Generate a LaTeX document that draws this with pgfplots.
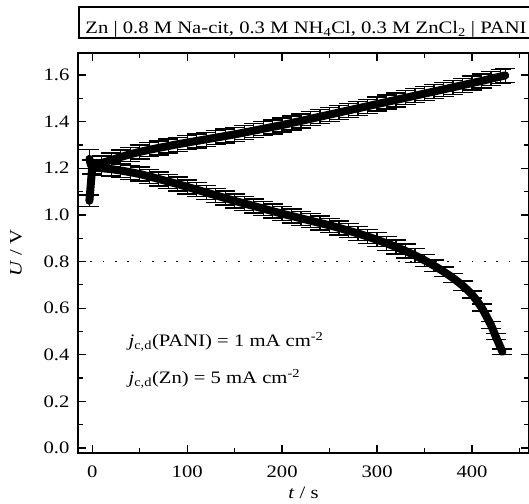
\documentclass[border=0pt]{standalone}
\usepackage{fontspec}
\setmainfont{Liberation Serif}[FakeStretch=1.18]
\usepackage{pgfplots}
\pgfplotsset{compat=1.18}

\newcommand{\fs}{\fontsize{17.5}{21}\selectfont}

% t / s, U / V, error
\pgfplotstableread{
t U e
-3 1.06 0.025
0 1.205 0.03
10 1.222 0.03
20 1.235 0.03
30 1.248 0.03
40 1.260 0.03
50 1.270 0.03
60 1.279 0.03
70 1.287 0.03
80 1.295 0.03
90 1.303 0.03
100 1.310 0.03
110 1.317 0.03
120 1.324 0.03
130 1.331 0.03
140 1.338 0.03
150 1.345 0.03
160 1.353 0.03
170 1.361 0.03
180 1.369 0.03
190 1.377 0.03
200 1.385 0.03
210 1.394 0.03
220 1.403 0.03
230 1.412 0.03
240 1.421 0.03
250 1.430 0.03
260 1.439 0.03
270 1.448 0.03
280 1.457 0.03
290 1.466 0.03
300 1.475 0.03
310 1.484 0.03
320 1.493 0.03
330 1.502 0.03
340 1.511 0.03
350 1.520 0.03
360 1.529 0.03
370 1.538 0.03
380 1.547 0.03
390 1.556 0.03
400 1.565 0.03
410 1.574 0.03
420 1.584 0.03
430 1.593 0.03
435 1.598 0.03
}\charge

\pgfplotstableread{
t U e
-3 1.240 0.04
0 1.205 0.03
10 1.200 0.03
20 1.196 0.03
30 1.190 0.03
40 1.183 0.03
50 1.175 0.03
60 1.165 0.03
70 1.154 0.03
80 1.143 0.03
90 1.132 0.03
100 1.120 0.03
110 1.108 0.03
120 1.096 0.03
130 1.084 0.03
140 1.072 0.03
150 1.060 0.03
160 1.049 0.03
170 1.038 0.03
180 1.027 0.03
190 1.016 0.03
200 1.005 0.03
210 0.995 0.03
220 0.985 0.03
230 0.975 0.03
240 0.965 0.03
250 0.955 0.03
260 0.944 0.03
270 0.932 0.03
280 0.920 0.03
290 0.907 0.03
300 0.893 0.03
310 0.878 0.03
320 0.862 0.03
330 0.845 0.03
340 0.826 0.03
350 0.805 0.025
360 0.782 0.025
370 0.757 0.02
380 0.729 0.02
390 0.697 0.02
400 0.658 0.015
410 0.603 0.015
420 0.527 0.015
425 0.478 0.012
432 0.413 0.012
}\discharge

\begin{document}
\begin{tikzpicture}
\begin{axis}[
    at={(0,0)}, anchor=south west,
    scale only axis,
    width=451pt, height=400pt,
    xmin=-15, xmax=460,
    ymin=-0.021, ymax=1.694,
    xtick={0,100,...,400},
    minor xtick={50,150,...,450},
    ytick={0,0.2,...,1.6},
    minor ytick={0.1,0.3,...,1.7},
    tick align=inside,
    major tick length=8pt,
    minor tick length=5pt,
    every tick/.style={black, line width=1.3pt},
    axis line style={line width=1.6pt},
    /pgf/number format/assume math mode=true,
    tick label style={font=\fs},
    xticklabel style={yshift=-9pt},
    yticklabel style={xshift=-5pt, /pgf/number format/fixed,
        /pgf/number format/fixed zerofill, /pgf/number format/precision=1},
    xlabel={\textit{t} / s},
    ylabel={\textit{U} / V},
    every axis x label/.style={at={(axis description cs:0.5,0)}, yshift=-45pt, anchor=base, font=\fs},
    every axis y label/.style={at={(axis description cs:0,0.5)}, xshift=-62pt, rotate=90, anchor=center, font=\fs},
    clip=false,
]
\addplot[black, line width=1.8pt, dash pattern=on 1.8pt off 10.5pt] coordinates {(-15,0.8) (460,0.8)};

\addplot[black, line width=8pt, line cap=round, line join=round,
    error bars/.cd, y dir=both, y explicit,
    error bar style={line width=1.3pt, line cap=butt},
    error mark options={rotate=90, line width=1.3pt, mark size=10pt}]
    table[x=t, y=U, y error=e] {\charge};

\addplot[black, line width=8pt, line cap=round, line join=round, smooth, tension=0.4,
    error bars/.cd, y dir=both, y explicit,
    error bar style={line width=1.3pt, line cap=butt},
    error mark options={rotate=90, line width=1.3pt, mark size=10pt}]
    table[x=t, y=U, y error=e] {\discharge};

\node[anchor=base west, font=\fs, inner sep=0pt] at (axis cs:38,0.435)
    {\textit{j}\textsubscript{c,d}(PANI) = 1 mA cm\textsuperscript{-2}};
\node[anchor=base west, font=\fs, inner sep=0pt] at (axis cs:38,0.275)
    {\textit{j}\textsubscript{c,d}(Zn) = 5 mA cm\textsuperscript{-2}};
\end{axis}
\draw[line width=1.2pt] (1pt,415pt) rectangle (456pt,446pt);
\node[anchor=base, font=\fs, inner sep=0pt] at (228pt,419.5pt)
    {Zn | 0.8 M Na-cit, 0.3 M NH\textsubscript{4}Cl, 0.3 M ZnCl\textsubscript{2} | PANI};
\pgfresetboundingbox
\path[use as bounding box] (-78pt,-50pt) rectangle (451pt,453pt);
\end{tikzpicture}
\end{document}
